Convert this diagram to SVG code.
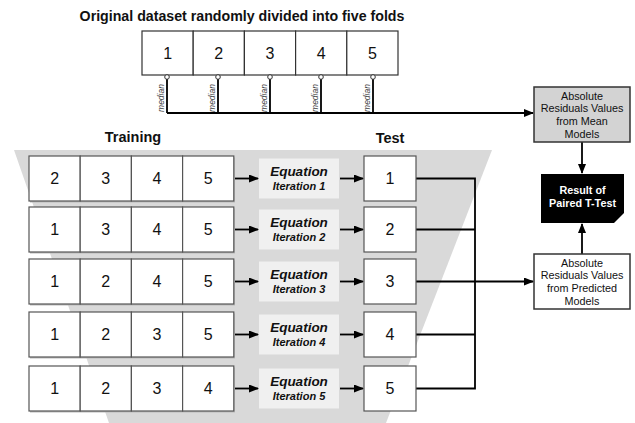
<svg xmlns="http://www.w3.org/2000/svg" width="635" height="423" viewBox="0 0 635 423">
<defs>
<marker id="ah" markerWidth="10" markerHeight="8" refX="9" refY="4" orient="auto" markerUnits="userSpaceOnUse">
<path d="M0,0 L10,4 L0,8 Z" fill="#000"/>
</marker>
<style>
text{font-family:"Liberation Sans",Arial,sans-serif;fill:#111}
.num{font-size:16px;text-anchor:middle;dominant-baseline:central}
.box{fill:#fff;stroke:#555;stroke-width:1.2}
.shadow{fill:#bcbcbc}
.hdr{font-size:14.5px;font-weight:bold;text-anchor:middle}
.eqb{fill:#f0f0f0}
.eq{font-size:13.5px;font-weight:bold;font-style:italic;text-anchor:middle}
.it{font-size:11px;font-weight:bold;font-style:italic;text-anchor:middle}
.conn{fill:none;stroke:#000;stroke-width:1.8}
.med{font-size:8.5px;font-style:italic;text-anchor:middle;fill:#444}
.lbl{font-size:10.8px;text-anchor:middle}
.wlbl{font-size:10.8px;font-weight:bold;text-anchor:middle;fill:#fff}
</style>
</defs>
<rect width="635" height="423" fill="#fff"/>
<polygon points="14,150 492,150 386,423 109,423" fill="#d9d9d9"/>
<text x="242" y="21" style="font-size:14.2px;font-weight:bold;text-anchor:middle">Original dataset randomly divided into five folds</text>
<text class="hdr" x="133" y="142">Training</text>
<text class="hdr" x="390" y="143">Test</text>

<g id="dataset">
<rect class="box" x="142" y="31" width="51.2" height="44" style="stroke:#333"/>
<rect class="box" x="193.2" y="31" width="51.2" height="44" style="stroke:#333"/>
<rect class="box" x="244.4" y="31" width="51.2" height="44" style="stroke:#333"/>
<rect class="box" x="295.6" y="31" width="51.2" height="44" style="stroke:#333"/>
<rect class="box" x="346.8" y="31" width="51.2" height="44" style="stroke:#333"/>
<text class="num" x="167.6" y="53">1</text>
<text class="num" x="218.8" y="53">2</text>
<text class="num" x="270" y="53">3</text>
<text class="num" x="321.2" y="53">4</text>
<text class="num" x="372.4" y="53">5</text>
</g>

<g id="connectors">
<path class="conn" d="M167,79 V113 M218,79 V113 M270,79 V113 M321,79 V113 M373,79 V113"/>
<path class="conn" d="M167,113 H533" marker-end="url(#ah)"/>
<g fill="#fff" stroke="#333" stroke-width="1">
<circle cx="167" cy="77" r="2.3"/><circle cx="218" cy="77" r="2.3"/><circle cx="270" cy="77" r="2.3"/><circle cx="321" cy="77" r="2.3"/><circle cx="373" cy="77" r="2.3"/>
</g>
<text class="med" transform="translate(164,98) rotate(-90)">median</text>
<text class="med" transform="translate(215,98) rotate(-90)">median</text>
<text class="med" transform="translate(267,98) rotate(-90)">median</text>
<text class="med" transform="translate(318,98) rotate(-90)">median</text>
<text class="med" transform="translate(370,98) rotate(-90)">median</text>

<path class="conn" d="M234,178.5 H258" marker-end="url(#ah)"/>
<path class="conn" d="M234,229.5 H258" marker-end="url(#ah)"/>
<path class="conn" d="M234,281.5 H258" marker-end="url(#ah)"/>
<path class="conn" d="M234,334.5 H258" marker-end="url(#ah)"/>
<path class="conn" d="M234,388.5 H258" marker-end="url(#ah)"/>
<path class="conn" d="M340,178.5 H363" marker-end="url(#ah)"/>
<path class="conn" d="M340,229.5 H363" marker-end="url(#ah)"/>
<path class="conn" d="M340,281.5 H363" marker-end="url(#ah)"/>
<path class="conn" d="M340,334.5 H363" marker-end="url(#ah)"/>
<path class="conn" d="M340,388.5 H363" marker-end="url(#ah)"/>
<path class="conn" d="M416,178.5 H475 M416,229.5 H475 M416,334.5 H475 M416,388.5 H475 M475,177.6 V389.4"/>
<path class="conn" d="M416,281.5 H533" marker-end="url(#ah)"/>
<path class="conn" d="M582,142 V173" marker-end="url(#ah)"/>
<path class="conn" d="M582,254 V224" marker-end="url(#ah)"/>
</g>

<g id="row1">
<rect class="shadow" x="30" y="157.5" width="205" height="45"/>
<rect class="box" x="29" y="156" width="51.2" height="45"/><rect class="box" x="80.2" y="156" width="51.2" height="45"/><rect class="box" x="131.4" y="156" width="51.2" height="45"/><rect class="box" x="182.6" y="156" width="51.2" height="45"/>
<text class="num" x="54.6" y="178.5">2</text><text class="num" x="105.8" y="178.5">3</text><text class="num" x="157" y="178.5">4</text><text class="num" x="208.2" y="178.5">5</text>
</g>
<g id="row2">
<rect class="shadow" x="30" y="208.5" width="205" height="45"/>
<rect class="box" x="29" y="207" width="51.2" height="45"/><rect class="box" x="80.2" y="207" width="51.2" height="45"/><rect class="box" x="131.4" y="207" width="51.2" height="45"/><rect class="box" x="182.6" y="207" width="51.2" height="45"/>
<text class="num" x="54.6" y="229.5">1</text><text class="num" x="105.8" y="229.5">3</text><text class="num" x="157" y="229.5">4</text><text class="num" x="208.2" y="229.5">5</text>
</g>
<g id="row3">
<rect class="shadow" x="30" y="260.5" width="205" height="45"/>
<rect class="box" x="29" y="259" width="51.2" height="45"/><rect class="box" x="80.2" y="259" width="51.2" height="45"/><rect class="box" x="131.4" y="259" width="51.2" height="45"/><rect class="box" x="182.6" y="259" width="51.2" height="45"/>
<text class="num" x="54.6" y="281.5">1</text><text class="num" x="105.8" y="281.5">2</text><text class="num" x="157" y="281.5">4</text><text class="num" x="208.2" y="281.5">5</text>
</g>
<g id="row4">
<rect class="shadow" x="30" y="313.5" width="205" height="45"/>
<rect class="box" x="29" y="312" width="51.2" height="45"/><rect class="box" x="80.2" y="312" width="51.2" height="45"/><rect class="box" x="131.4" y="312" width="51.2" height="45"/><rect class="box" x="182.6" y="312" width="51.2" height="45"/>
<text class="num" x="54.6" y="334.5">1</text><text class="num" x="105.8" y="334.5">2</text><text class="num" x="157" y="334.5">3</text><text class="num" x="208.2" y="334.5">5</text>
</g>
<g id="row5">
<rect class="shadow" x="30" y="367.5" width="205" height="45"/>
<rect class="box" x="29" y="366" width="51.2" height="45"/><rect class="box" x="80.2" y="366" width="51.2" height="45"/><rect class="box" x="131.4" y="366" width="51.2" height="45"/><rect class="box" x="182.6" y="366" width="51.2" height="45"/>
<text class="num" x="54.6" y="388.5">1</text><text class="num" x="105.8" y="388.5">2</text><text class="num" x="157" y="388.5">3</text><text class="num" x="208.2" y="388.5">4</text>
</g>

<g id="eq1"><rect class="eqb" x="259" y="158.5" width="80" height="40"/><text class="eq" x="299" y="176">Equation</text><text class="it" x="299" y="190">Iteration 1</text></g>
<g id="eq2"><rect class="eqb" x="259" y="209.5" width="80" height="40"/><text class="eq" x="299" y="227">Equation</text><text class="it" x="299" y="241">Iteration 2</text></g>
<g id="eq3"><rect class="eqb" x="259" y="261.5" width="80" height="40"/><text class="eq" x="299" y="279">Equation</text><text class="it" x="299" y="293">Iteration 3</text></g>
<g id="eq4"><rect class="eqb" x="259" y="314.5" width="80" height="40"/><text class="eq" x="299" y="332">Equation</text><text class="it" x="299" y="346">Iteration 4</text></g>
<g id="eq5"><rect class="eqb" x="259" y="368.5" width="80" height="40"/><text class="eq" x="299" y="386">Equation</text><text class="it" x="299" y="400">Iteration 5</text></g>

<g id="test1"><rect class="box" x="364" y="156" width="52" height="45"/><text class="num" x="390" y="178.5">1</text></g>
<g id="test2"><rect class="box" x="364" y="207" width="52" height="45"/><text class="num" x="390" y="229.5">2</text></g>
<g id="test3"><rect class="box" x="364" y="259" width="52" height="45"/><text class="num" x="390" y="281.5">3</text></g>
<g id="test4"><rect class="box" x="364" y="312" width="52" height="45"/><text class="num" x="390" y="334.5">4</text></g>
<g id="test5"><rect class="box" x="364" y="366" width="52" height="45"/><text class="num" x="390" y="388.5">5</text></g>

<g id="mean">
<rect x="534" y="87" width="96" height="55" fill="#d3d3d3" stroke="#333" stroke-width="1.5"/>
<text class="lbl" x="582" y="99.5">Absolute</text>
<text class="lbl" x="582" y="112">Residuals Values</text>
<text class="lbl" x="582" y="125">from Mean</text>
<text class="lbl" x="582" y="137.5">Models</text>
</g>
<g id="result">
<path d="M541,174 H624 V213 L614,223 H541 Z" fill="#000"/>
<text class="wlbl" x="582.5" y="194">Result of</text>
<text class="wlbl" x="582.5" y="207">Paired T-Test</text>
</g>
<g id="predicted">
<rect x="534" y="254" width="96" height="55" fill="#fff" stroke="#333" stroke-width="1.5"/>
<text class="lbl" x="582" y="266.5">Absolute</text>
<text class="lbl" x="582" y="279">Residuals Values</text>
<text class="lbl" x="582" y="292">from Predicted</text>
<text class="lbl" x="582" y="304.5">Models</text>
</g>
</svg>
